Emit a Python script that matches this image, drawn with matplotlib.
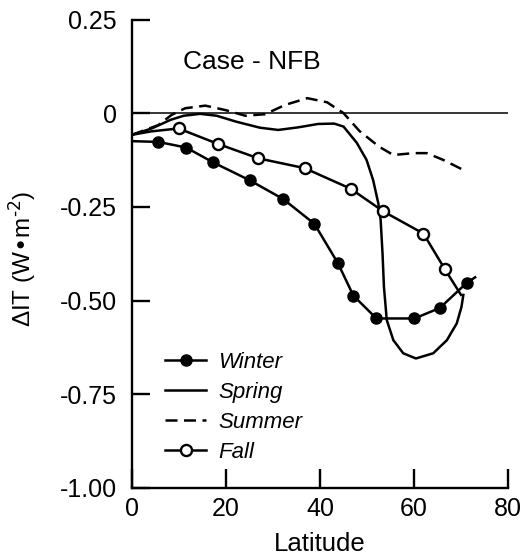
import matplotlib
matplotlib.use("Agg")
import matplotlib.pyplot as plt
from matplotlib.lines import Line2D

plt.rcParams["font.family"] = ["Liberation Sans", "DejaVu Sans"]
plt.rcParams["mathtext.default"] = "regular"

# values (latitude in degrees, dIT in W m-2)
winter_lat = [0, 5.6, 11.5, 17.3, 25.1, 32.2, 38.8, 43.8, 47.1, 52.0, 60.1, 65.5, 71.2, 73.0]
winter_val = [-0.074, -0.076, -0.091, -0.131, -0.179, -0.229, -0.295, -0.400, -0.487,
              -0.548, -0.548, -0.520, -0.453, -0.438]

spring_lat = [0, 4.2, 8.2, 11.0, 14.5, 18.0, 22.2, 27.2, 31.1, 35.4, 39.6, 43.0, 45.0,
              47.8, 49.9, 51.3, 52.4, 52.9, 53.3, 53.6, 54.2, 55.6, 57.7, 60.4, 64.1,
              67.0, 69.1, 70.1, 70.5]
spring_val = [-0.057, -0.040, -0.017, -0.006, -0.001, -0.006, -0.022, -0.038, -0.044,
              -0.037, -0.028, -0.027, -0.035, -0.078, -0.124, -0.178, -0.240, -0.285,
              -0.374, -0.463, -0.552, -0.606, -0.641, -0.655, -0.641, -0.606, -0.561,
              -0.517, -0.485]

summer_lat = [0, 5.6, 8.4, 11.3, 15.6, 19.9, 24.1, 28.3, 32.6, 37.3, 41.5, 45.0, 48.4,
              52.6, 55.6, 59.9, 62.7, 66.2, 70.5]
summer_val = [-0.057, -0.031, -0.004, 0.014, 0.021, 0.009, -0.006, -0.002, 0.023, 0.041,
              0.030, 0.001, -0.047, -0.089, -0.111, -0.106, -0.106, -0.124, -0.151]

fall_lat = [0, 4.0, 9.9, 18.2, 26.9, 36.7, 46.5, 53.5, 62.0, 66.6, 70.0]
fall_val = [-0.057, -0.048, -0.040, -0.081, -0.120, -0.146, -0.201, -0.262, -0.321,
            -0.417, -0.485]

xticks = [0, 20, 40, 60, 80]
yticks = [0.25, 0, -0.25, -0.50, -0.75, -1.00]
ytick_labels = ["0.25", "0", "-0.25", "-0.50", "-0.75", "-1.00"]

fig = plt.figure(figsize=(5.22, 5.58), dpi=100)
ax = fig.add_axes([0.2529, 0.1263, 0.7203, 0.8379])

lw = 1.8
ms = 8
dash = (4.8, 2.6)
ax.axhline(0, color="k", lw=1.1, zorder=1)
ax.plot(spring_lat, spring_val, color="k", lw=lw)
ax.plot(summer_lat, summer_val, color="k", lw=lw, dashes=dash)
ax.plot(fall_lat, fall_val, color="k", lw=lw, marker="o", ms=ms, mfc="white",
        mec="k", mew=1.7, markevery=slice(2, -1))
ax.plot(winter_lat, winter_val, color="k", lw=lw, marker="o", ms=ms, mfc="k",
        mec="k", markevery=slice(1, -1))

ax.set_xlim(0, 80)
ax.set_ylim(-1.0, 0.25)
ax.set_xticks(xticks)
ax.set_yticks(yticks)
ax.set_yticklabels(ytick_labels)
ax.spines["top"].set_visible(False)
ax.spines["right"].set_visible(False)
for s in ("left", "bottom"):
    ax.spines[s].set_linewidth(1.7)
ax.tick_params(axis="x", direction="in", length=14, width=1.7, pad=7, labelsize=18)
ax.tick_params(axis="y", direction="in", length=13, width=1.7, pad=11, labelsize=18)

ax.set_xlabel("Latitude", fontsize=18.5, labelpad=8)
ax.set_ylabel("ΔIT (W•m$^{\\text{-2}}$)", fontsize=17.5)
ax.yaxis.set_label_coords(-0.25, 0.49)

ax.text(10.9, 0.138, "Case - NFB", fontsize=19, ha="left", va="center")

handles = [
    Line2D([], [], color="k", lw=lw, marker="o", ms=ms, mfc="k"),
    Line2D([], [], color="k", lw=lw),
    Line2D([], [], color="k", lw=lw, dashes=dash),
    Line2D([], [], color="k", lw=lw, marker="o", ms=ms, mfc="white", mew=1.7),
]
labels = ["Winter", "Spring", "Summer", "Fall"]
leg = ax.legend(handles, labels, loc="upper left", bbox_to_anchor=(0.088, 0.29),
                frameon=False, borderpad=0, borderaxespad=0, handlelength=1.85,
                handletextpad=0.55, labelspacing=0.4,
                prop={"size": 16, "style": "italic"})

fig.savefig("out.png", dpi=100)
